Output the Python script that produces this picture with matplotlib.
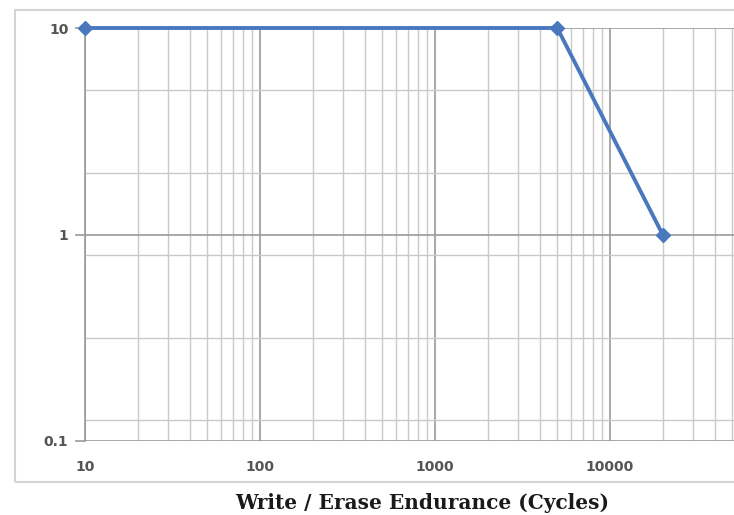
import matplotlib.pyplot as plt
from matplotlib.patches import Rectangle
from matplotlib.ticker import FixedLocator, NullFormatter

# data
cycles = [10, 5000, 20000]
retention = [10, 10, 1]

x_ticks = [10, 100, 1000, 10000]
x_tick_labels = ['10', '100', '1000', '10000']
y_ticks = [0.1, 1, 10]
y_tick_labels = ['0.1', '1', '10']
# odd extra horizontal lines in the original (evenly spaced on the log axis)
y_minor = [0.126, 0.316, 0.794, 1.995, 5.01]

x_minor = [m * d for d in [10, 100, 1000, 10000] for m in range(2, 10)]

fig = plt.figure(figsize=(7.34, 5.15), dpi=100)
fig.patch.set_facecolor('white')

# chart area border
fig.patches.append(Rectangle((15 / 734, 1 - 482 / 515), 1.0, (482 - 10) / 515,
                             transform=fig.transFigure, fill=False,
                             edgecolor='#d4d4d4', linewidth=1.5))

ax = fig.add_axes([85 / 734, 1 - 441 / 515, (734 - 85) / 734, (441 - 28) / 515])
ax.set_xscale('log')
ax.set_yscale('log')
ax.set_xlim(10, 51160)
ax.set_ylim(0.1, 10)

ax.xaxis.set_major_locator(FixedLocator(x_ticks))
ax.xaxis.set_minor_locator(FixedLocator(x_minor))
ax.yaxis.set_major_locator(FixedLocator(y_ticks))
ax.yaxis.set_minor_locator(FixedLocator(y_minor))
ax.xaxis.set_minor_formatter(NullFormatter())
ax.yaxis.set_minor_formatter(NullFormatter())
ax.set_xticklabels(x_tick_labels)
ax.set_yticklabels(y_tick_labels)

ax.grid(True, which='minor', color='#c9c9c9', linewidth=1.0)
ax.grid(True, which='major', color='#9a9a9a', linewidth=1.2)
ax.set_axisbelow(True)

for s in ['top', 'right', 'bottom']:
    ax.spines[s].set_visible(False)
ax.spines['left'].set_color('#9a9a9a')
ax.spines['left'].set_linewidth(1.2)

ax.tick_params(axis='y', which='major', length=7, width=1.2, color='#9a9a9a',
               labelsize=10, labelcolor='#555555', pad=5)
ax.tick_params(axis='x', which='major', length=0, labelsize=10,
               labelcolor='#555555', pad=14)
ax.tick_params(which='minor', length=0)
for lab in ax.get_xticklabels() + ax.get_yticklabels():
    lab.set_fontweight('bold')

ax.plot(cycles, retention, color='#4a78bd', linewidth=2.8, marker='D',
        markersize=7, clip_on=False, zorder=5)

ax.set_xlabel('Write / Erase Endurance (Cycles)', fontsize=14.5,
              fontweight='bold', family='DejaVu Serif', color='#1a1a1a')
ax.xaxis.set_label_coords((422 - 85) / (734 - 85), -(493 - 441) / (441 - 28))

fig.savefig('out.png', dpi=100, facecolor='white')
